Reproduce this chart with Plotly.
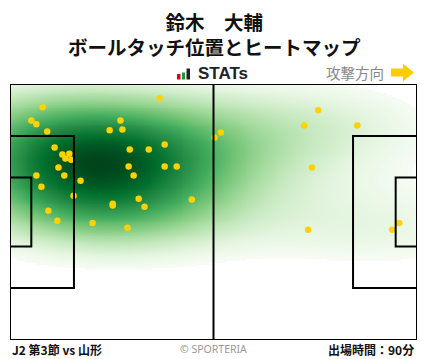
import numpy as np
import plotly.graph_objects as go

# Ball touch positions (metres; x: 0-105 toward attack direction, y: 0-68 bottom->top)
touch_x = [38.6, 8.4, 5.5, 6.8, 9.6, 28.5, 25.7, 29.0, 11.5, 13.5, 15.3, 14.3, 15.8,
           12.5, 14.0, 6.8, 8.1, 18.2, 16.4, 30.9, 35.8, 39.9, 30.6, 39.9, 43.0, 31.9,
           33.2, 34.7, 26.5, 26.5, 46.9, 9.9, 12.2, 21.3, 30.3, 52.8, 54.4, 79.5, 75.9,
           89.6, 77.9, 76.9, 98.6, 100.4]
touch_y = [64.2, 61.8, 58.3, 57.3, 55.4, 58.3, 55.7, 55.9, 51.1, 49.3, 49.5, 48.2, 47.9,
           45.8, 43.7, 43.7, 40.7, 42.3, 38.3, 50.6, 50.6, 51.9, 46.1, 46.1, 46.1, 43.7,
           37.5, 35.4, 36.2, 35.7, 37.3, 34.3, 31.7, 31.1, 29.8, 53.8, 55.1, 61.0, 57.0,
           57.0, 45.8, 29.3, 29.3, 31.1]

title_name = "鈴木　大輔"
title_sub = "ボールタッチ位置とヒートマップ"
match_label = "J2 第3節 vs 山形"
minutes_label = "出場時間：90分"
direction_label = "攻撃方向"

PITCH_L, PITCH_W = 105.0, 68.0

# Gaussian KDE (Scott's rule, widened) of the touch positions
pts = np.vstack([touch_x, touch_y])
n = pts.shape[1]
factor = n ** (-1.0 / 6.0) * 1.5
cov = np.cov(pts) * factor ** 2
inv = np.linalg.inv(cov)
gx = np.linspace(0, PITCH_L, 211)
gy = np.linspace(0, PITCH_W, 137)
GX, GY = np.meshgrid(gx, gy)
dens = np.zeros_like(GX)
for i in range(n):
    dx = GX - pts[0, i]
    dy = GY - pts[1, i]
    q = inv[0, 0] * dx * dx + 2 * inv[0, 1] * dx * dy + inv[1, 1] * dy * dy
    dens += np.exp(-0.5 * q)
dens /= dens.max()
flat = np.sort(dens.ravel())
cum = np.cumsum(flat)
cum /= cum[-1]
thr = flat[np.searchsorted(cum, 0.02)]
shade = np.where(dens >= thr, dens ** 0.75, np.nan)

greens = [[0.0, "#f7fcf5"], [0.125, "#e5f5e0"], [0.25, "#c7e9c0"], [0.375, "#a1d99b"],
          [0.5, "#74c476"], [0.625, "#41ab5d"], [0.75, "#238b45"], [0.875, "#006d2c"],
          [1.0, "#00441b"]]

fig = go.Figure()
fig.add_trace(go.Heatmap(x=gx, y=gy, z=shade, colorscale=greens, zmin=thr ** 0.75, zmax=1.0,
                         zsmooth="best", showscale=False, hoverinfo="skip"))
fig.add_trace(go.Scatter(x=touch_x, y=touch_y, mode="markers",
                         marker=dict(color="#FFD200", size=6.5, line=dict(width=0)),
                         hoverinfo="skip", cliponaxis=False))

line = dict(color="black", width=2)
shapes = []
def rect(x0, y0, x1, y1):
    shapes.append(dict(type="rect", xref="x", yref="y", x0=x0, y0=y0, x1=x1, y1=y1,
                       line=line, fillcolor="rgba(0,0,0,0)", layer="above"))
rect(0, 0, PITCH_L, PITCH_W)
shapes.append(dict(type="line", xref="x", yref="y", x0=PITCH_L / 2, x1=PITCH_L / 2,
                   y0=0, y1=PITCH_W, line=line, layer="above"))
box_h = 40.32
ga_h = 18.32
cy = PITCH_W / 2
rect(0, cy - box_h / 2, 16.5, cy + box_h / 2)
rect(0, cy - ga_h / 2, 5.5, cy + ga_h / 2)
rect(PITCH_L - 16.5, cy - box_h / 2, PITCH_L, cy + box_h / 2)
rect(PITCH_L - 5.5, cy - ga_h / 2, PITCH_L, cy + ga_h / 2)

W, H = 428, 359
L, R, T, B = 10, 11, 84, 19
PW, PH = W - L - R, H - T - B
def px(x):
    return (x - L) / PW
def py(y):
    return (H - B - y) / PH
for (x0, x1, y0, col) in [(177, 180.5, 74, "#e60012"), (182, 185, 72.5, "#1a9a3a"),
                          (186.5, 190, 68.5, "#222222")]:
    shapes.append(dict(type="rect", xref="paper", yref="paper", x0=px(x0), x1=px(x1),
                       y0=py(79.5), y1=py(y0), line=dict(width=0), fillcolor=col))
pts_arrow = [(391, 68.5), (403, 68.5), (403, 63.5), (414, 72.5), (403, 81.5), (403, 76.5), (391, 76.5)]
arrow = "M " + " L ".join("{:.4f},{:.4f}".format(px(a), py(b)) for a, b in pts_arrow) + " Z"
shapes.append(dict(type="path", xref="paper", yref="paper", path=arrow,
                   line=dict(width=0), fillcolor="#FFCC00"))

jp = "Noto Sans CJK JP"
specs = [
    ("<b>" + title_name + "</b><br><b>" + title_sub + "</b>", 214, 33.5, "center", 19.5, jp, "#111"),
    ("<b>STATs</b>", 196, 73.5, "left", 17, "Liberation Sans", "#222"),
    (direction_label, 386, 72, "right", 14.5, jp, "#888"),
    ("<b>" + match_label + "</b>", 10, 349, "left", 12, jp, "#111"),
    ("© SPORTERIA", 213, 348.5, "center", 10.5, "Noto Sans", "#999"),
    ("<b>" + minutes_label + "</b>", 416, 349, "right", 12, jp, "#111"),
]
annotations = []
for text, x, y, xa, size, fam, col in specs:
    annotations.append(dict(text=text, x=px(x), y=py(y), xref="paper", yref="paper",
                            xanchor=xa, yanchor="middle", showarrow=False,
                            font=dict(size=size, family=fam, color=col)))

fig.update_layout(
    width=W, height=H, margin=dict(l=L, r=R, t=T, b=B, autoexpand=False),
    paper_bgcolor="white", plot_bgcolor="white",
    xaxis=dict(range=[0, PITCH_L], visible=False, fixedrange=True),
    yaxis=dict(range=[0, PITCH_W], visible=False, fixedrange=True),
    shapes=shapes, annotations=annotations, showlegend=False,
)
fig.write_html("out.html", config={"displayModeBar": False},
               post_script="document.body.style.margin='0';")
